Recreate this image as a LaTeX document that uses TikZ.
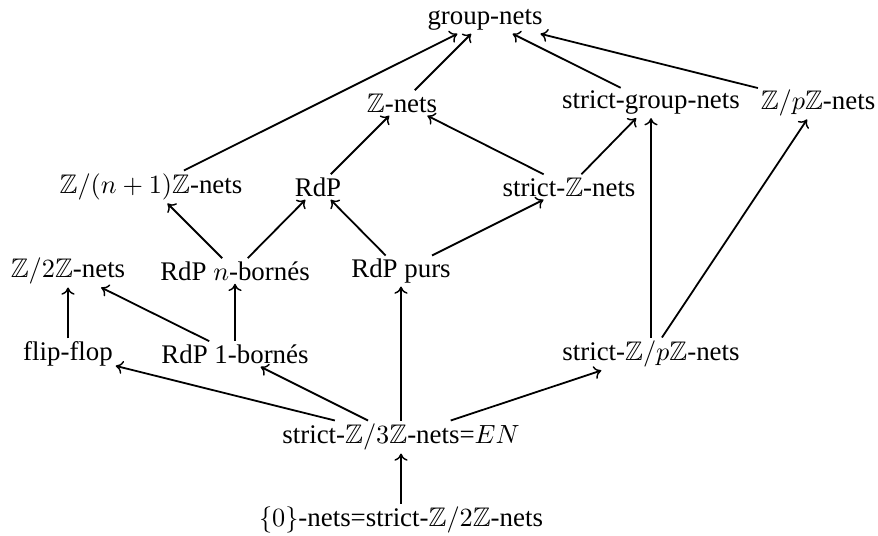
\documentclass[tikz,border=0pt]{standalone}
\usepackage{amssymb}
\usepackage{fontspec}
\setmainfont{Liberation Serif}
\usetikzlibrary{arrows.meta}
\newcommand{\ZZ}{\mathbb{Z}}
\begin{document}
\begin{tikzpicture}[x=0.41667pt,y=-0.41667pt,
  obj/.style={inner xsep=1pt, inner ysep=1.2pt, font=\fontsize{11.2}{13.5}\selectfont},
  arr/.style={line width=0.75pt, -{Computer Modern Rightarrow[length=3pt,width=5.5pt,line width=0.6pt]}}]
\useasboundingbox (0,0) rectangle (878,536);
\node[obj] (G)   at (485,20)  {group-nets};
\node[obj] (Zn)  at (402,103) {$\ZZ$-nets};
\node[obj] (SG)  at (651,103) {strict-group-nets};
\node[obj] (ZpZ) at (818,103) {$\ZZ/p\ZZ$-nets};
\node[obj] (Zn1) at (151,187) {$\ZZ/(n+1)\ZZ$-nets};
\node[obj] (RdP) at (318,187) {RdP};
\node[obj] (SZ)  at (569,187) {strict-$\ZZ$-nets};
\node[obj] (Z2)  at (68,271)  {$\ZZ/2\ZZ$-nets};
\node[obj] (RnB) at (235,271) {RdP $n$-bornés};
\node[obj] (RP)  at (401,271) {RdP purs};
\node[obj] (FF)  at (68,354)  {flip-flop};
\node[obj] (R1B) at (235,354) {RdP 1-bornés};
\node[obj] (SZp) at (651,354) {strict-$\ZZ/p\ZZ$-nets};
\node[obj] (EN)  at (401,437) {strict-$\ZZ/3\ZZ$-nets=$EN$};
\node[obj] (Z0)  at (401,520) {$\{0\}$-nets=strict-$\ZZ/2\ZZ$-nets};
\draw[arr] (Zn) -- (G);
\draw[arr] (Zn1) -- (G);
\draw[arr] (SG) -- (G);
\draw[arr] (ZpZ) -- (G);
\draw[arr] (RdP) -- (Zn);
\draw[arr] (SZ) -- (Zn);
\draw[arr] (SZ) -- (SG);
\draw[arr] (RnB) -- (Zn1);
\draw[arr] (RnB) -- (RdP);
\draw[arr] (RP) -- (RdP);
\draw[arr] (RP) -- (SZ);
\draw[arr] (FF) -- (Z2);
\draw[arr] (R1B) -- (Z2);
\draw[arr] (R1B) -- (RnB);
\draw[arr] (EN) -- (FF);
\draw[arr] (EN) -- (R1B);
\draw[arr] (EN) -- (RP);
\draw[arr] (EN) -- (SZp);
\draw[arr] (SZp) -- (SG);
\draw[arr] (SZp) -- (ZpZ);
\draw[arr] (Z0) -- (EN);
\end{tikzpicture}
\end{document}
